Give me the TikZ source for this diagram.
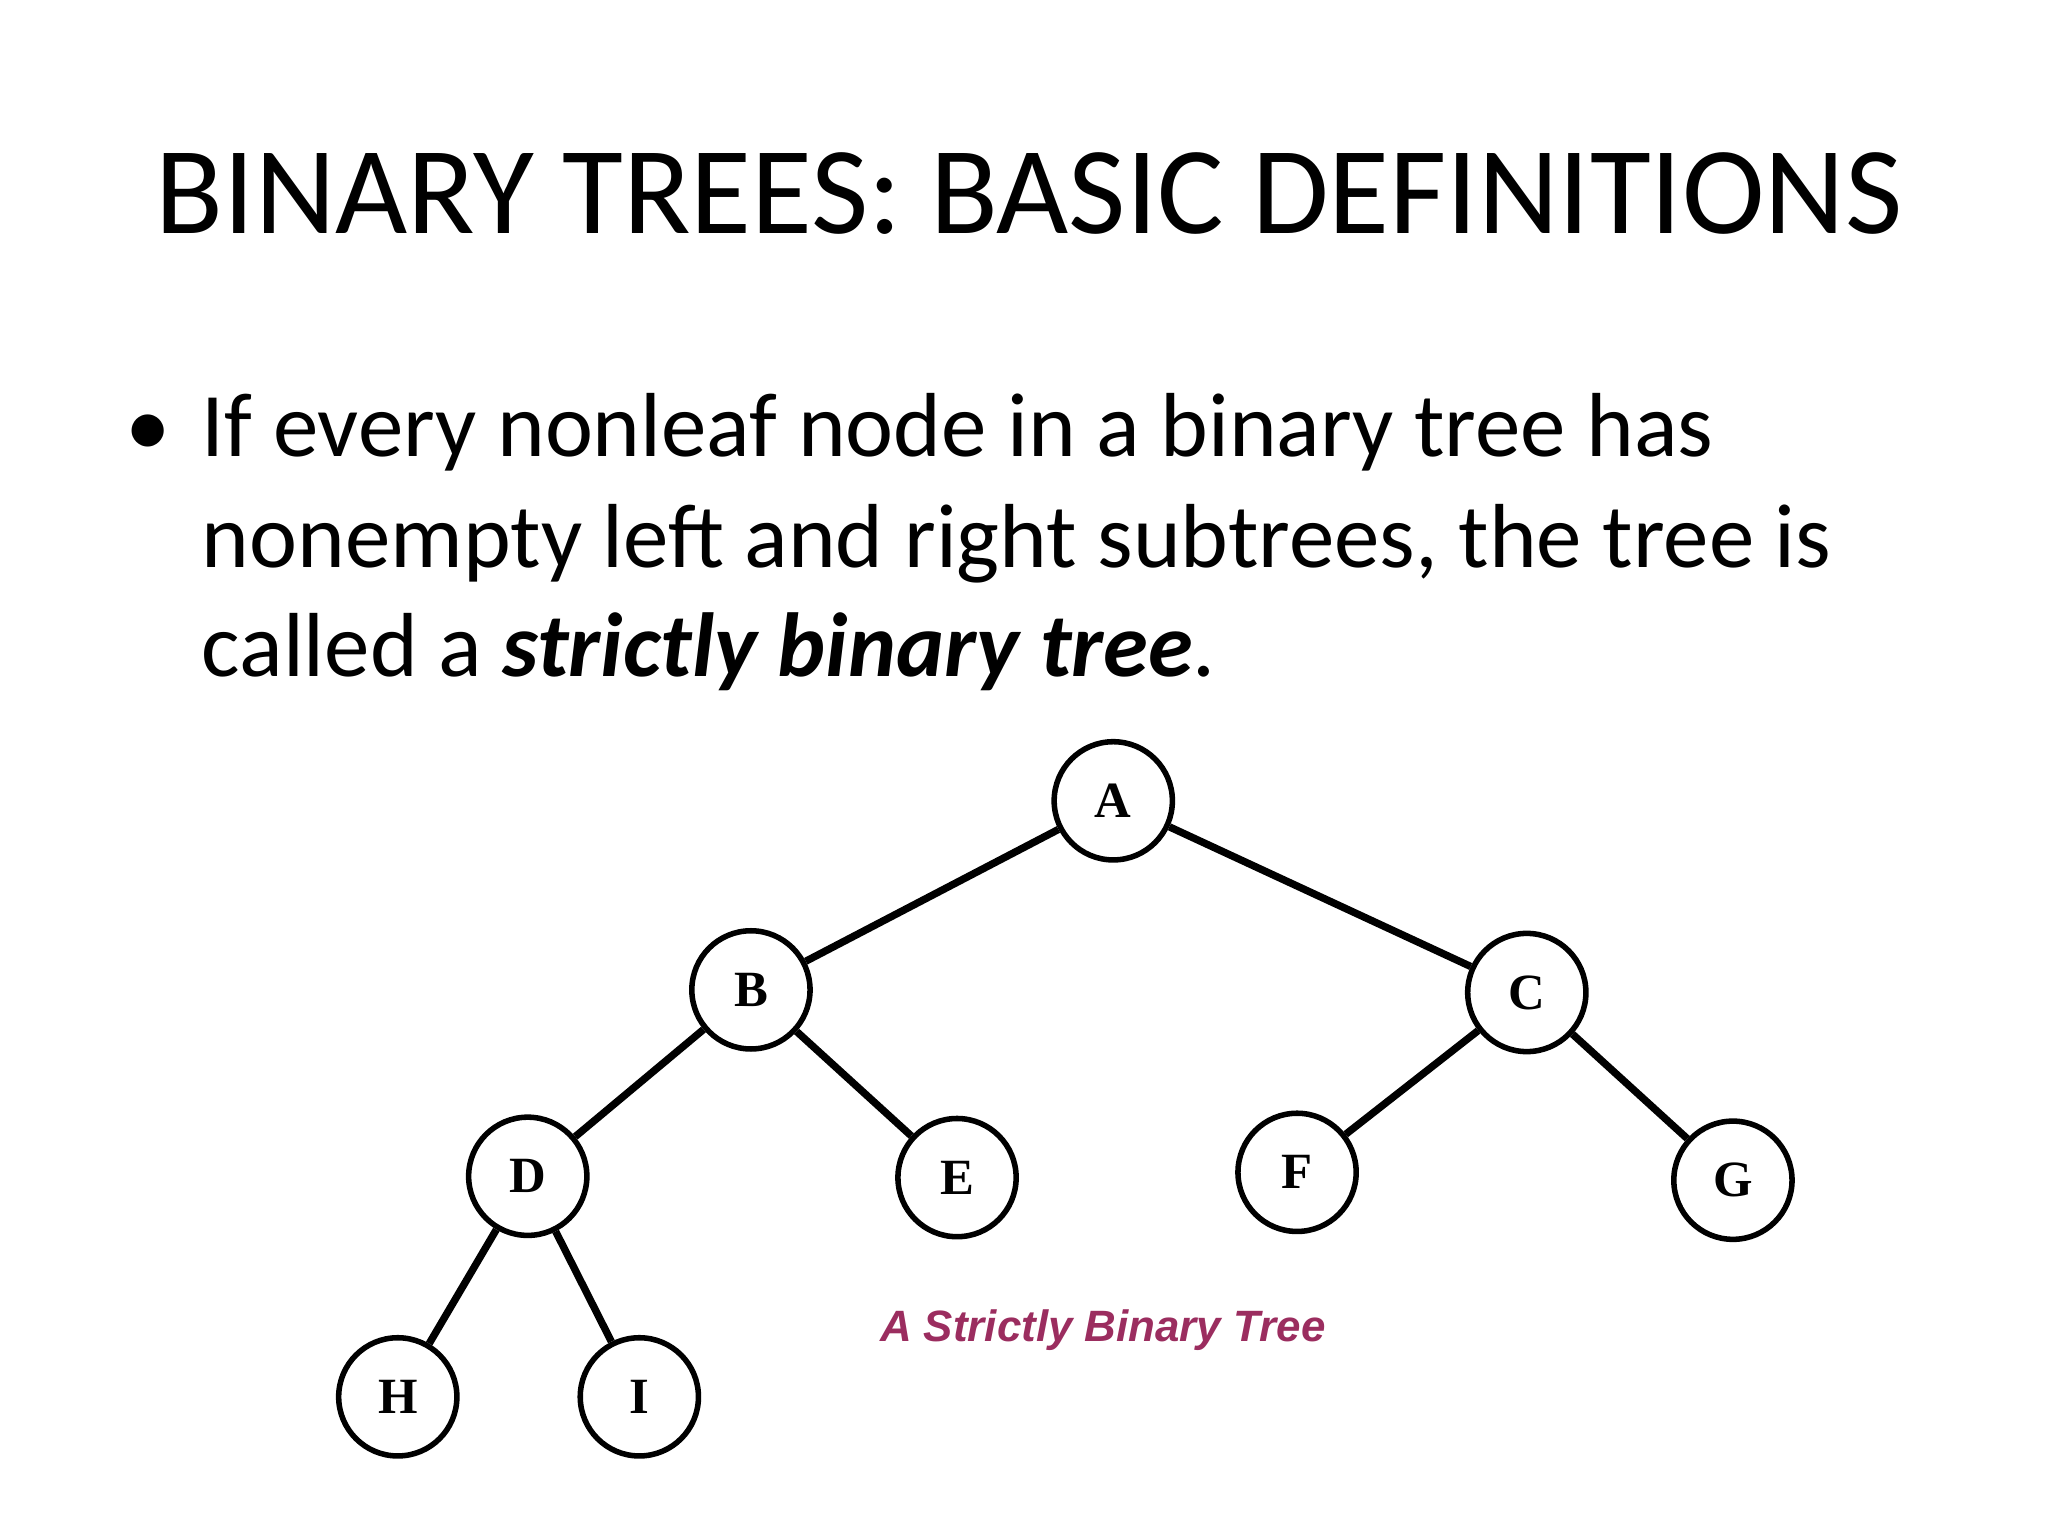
\documentclass[tikz,border=0pt]{standalone}
\usepackage{fontspec}
\setmainfont{Carlito}
\newfontfamily\nodefont{Liberation Serif}
\newfontfamily\capfont{Liberation Sans}
\definecolor{capcol}{RGB}{155,45,95}
\begin{document}
\begin{tikzpicture}[x=0.01cm,y=-0.01cm,
  tn/.style={circle,draw,line width=1.2pt,minimum size=0.9cm,inner sep=0pt,font=\nodefont\bfseries\fontsize{11}{11}\selectfont},
  ed/.style={line width=1.6pt},
  bt/.style={anchor=base west,inner sep=0pt,font=\fontsize{19.7}{24}\selectfont}]
\useasboundingbox (0,0) rectangle (1560,1170);
\node[anchor=base,font=\fontsize{27}{32}\selectfont] (title) at (784,178) {BINARY TREES: BASIC DEFINITIONS};
\node[bt] (bul) at (95,348) {•};
\node[bt] (l1) at (153,348) {If every nonleaf node in a binary tree has};
\node[bt] (l2) at (153,432) {nonempty left and right subtrees, the tree is};
\node[bt] (l3) at (153,515) {called a \textbf{\textit{strictly binary tree}}.};
\node[tn] (A) at (848,610) {A};
\node[tn] (B) at (572,754) {B};
\node[tn] (C) at (1163,756) {C};
\node[tn] (D) at (402,896) {D};
\node[tn] (E) at (729,897) {E};
\node[tn] (F) at (988,893) {F};
\node[tn] (G) at (1320,899) {G};
\node[tn] (H) at (303,1064) {H};
\node[tn] (I) at (487,1064) {I};
\foreach \a/\b in {A/B,A/C,B/D,B/E,C/F,C/G,D/H,D/I} \draw[ed] (\a) -- (\b);
\node[font=\capfont\bfseries\itshape\fontsize{9.5}{11}\selectfont,text=capcol] (cap) at (840,1013) {A Strictly Binary Tree};
\end{tikzpicture}
\end{document}
